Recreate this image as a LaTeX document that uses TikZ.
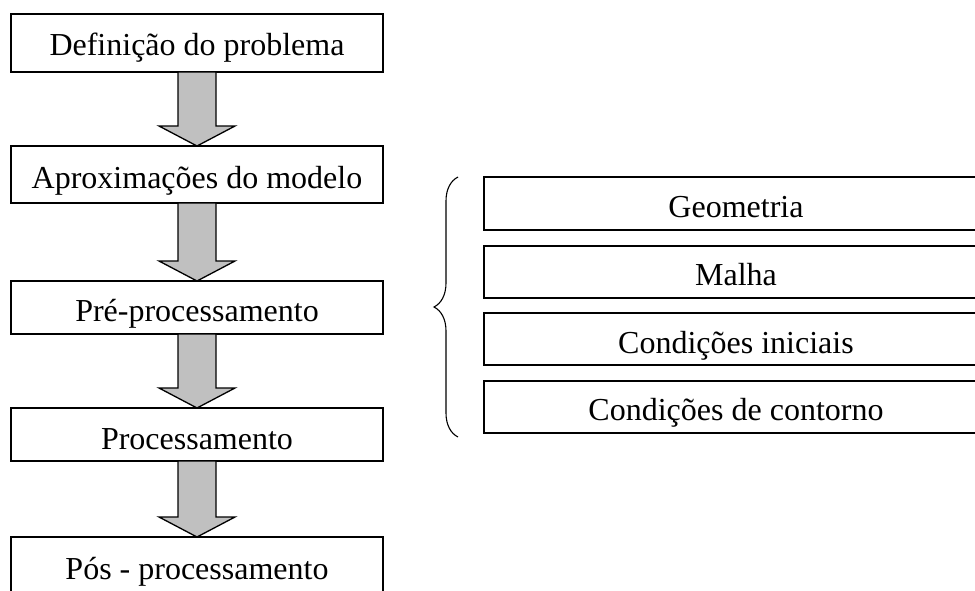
\documentclass[tikz,border=0pt]{standalone}
\usepackage{fontspec}
\setmainfont{Liberation Serif}
\usetikzlibrary{calc,decorations.pathreplacing}
\definecolor{arrowgray}{RGB}{192,192,192}
\begin{document}
\begin{tikzpicture}[x=1pt,y=-1pt,
  lbox/.style={draw,line width=1.3pt,minimum width=372pt,inner sep=0pt,outer sep=0pt,anchor=north west},
  rbox/.style={draw,line width=1.3pt,minimum width=504pt,inner sep=0pt,outer sep=0pt,anchor=north west},
  lbl/.style={anchor=base,inner sep=0pt,font=\fontsize{32}{36}\selectfont},
  fatarr/.style={draw,line width=1.3pt,fill=arrowgray,line join=miter}]
\useasboundingbox (0,0) rectangle (975,590);
\clip (0,0) rectangle (975,590);
% left column boxes
\node[lbox,minimum height=58pt] (b1) at (11,14) {};
\node[lbox,minimum height=57pt] (b2) at (11,146) {};
\node[lbox,minimum height=53pt] (b3) at (11,281) {};
\node[lbox,minimum height=53pt] (b4) at (11,408) {};
\node[lbox,minimum height=57pt] (b5) at (11,537) {};
\node[lbl] (t1) at (197,55) {Definição do problema};
\node[lbl] (t2) at (197,188) {Aproximações do modelo};
\node[lbl] (t3) at (197,321) {Pré-processamento};
\node[lbl] (t4) at (197,449) {Processamento};
\node[lbl] (t5) at (197,579) {Pós - processamento};
% fat arrows
\foreach \a/\b in {b1/b2,b2/b3,b3/b4,b4/b5}{
  \draw[fatarr] let \p1=(\a.south), \p2=(\b.north) in
    (\x1-19pt,\y1) -- (\x1-19pt,\y2+20pt) -- (\x1-38pt,\y2+20pt) -- (\x1,\y2)
    -- (\x1+38pt,\y2+20pt) -- (\x1+19pt,\y2+20pt) -- (\x1+19pt,\y1) -- cycle;
}
% right column boxes
\node[rbox,minimum height=53pt] (r1) at (484,177) {};
\node[rbox,minimum height=52pt] (r2) at (484,246) {};
\node[rbox,minimum height=52pt] (r3) at (484,313) {};
\node[rbox,minimum height=52pt] (r4) at (484,381) {};
\node[lbl] (s1) at (736,217) {Geometria};
\node[lbl] (s2) at (736,285) {Malha};
\node[lbl] (s3) at (736,353) {Condições iniciais};
\node[lbl] (s4) at (736,420) {Condições de contorno};
% brace
\coordinate (brbot) at (458,437);
\coordinate (brtop) at (458,177);
\draw[decorate,decoration={brace,amplitude=24pt},line width=1.1pt] (brbot) -- (brtop);
\end{tikzpicture}
\end{document}
